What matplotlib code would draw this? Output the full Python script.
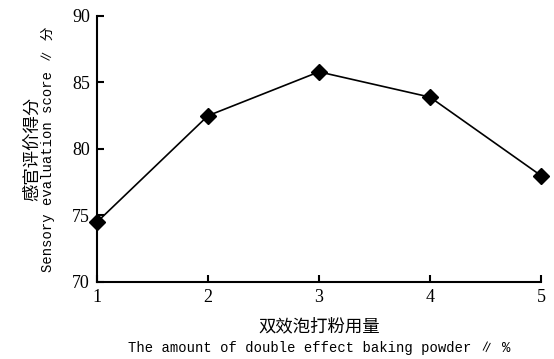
import matplotlib
matplotlib.use("Agg")
import matplotlib.pyplot as plt

# baking powder dosage (%) vs. sensory score
dosage = [1, 2, 3, 4, 5]
score = [74.5, 82.5, 85.8, 83.9, 78.0]
yticks = [70, 75, 80, 85, 90]

serif = ["Liberation Serif", "DejaVu Serif"]
cjk = ["Noto Sans CJK SC", "DejaVu Sans"]
mono = ["Liberation Mono", "Noto Sans CJK SC", "DejaVu Sans"]

fig = plt.figure(figsize=(5.54, 3.59), dpi=100)
ax = fig.add_axes([0.175, 0.2145, 0.8015, 0.741])

ax.plot(dosage, score, color="black", lw=1.2, marker="D", markersize=8.5,
        markerfacecolor="black", markeredgecolor="black", clip_on=False, zorder=3)

ax.set_xlim(1, 5)
ax.set_ylim(70, 90)
ax.set_xticks(dosage)
ax.set_yticks(yticks)

for s in ["top", "right"]:
    ax.spines[s].set_visible(False)
for s in ["left", "bottom"]:
    ax.spines[s].set_linewidth(1.5)

ax.tick_params(direction="in", length=5, width=1.5, pad=5)
for lab in ax.get_xticklabels() + ax.get_yticklabels():
    lab.set_family(serif)
    lab.set_fontsize(13)

# two-line axis titles: Chinese on top, English below
xc = 0.175 + 0.8015 / 2
fig.text(xc, 0.092, "双效泡打粉用量", family=cjk, fontsize=12.5,
         ha="center", va="center")
fig.text(xc, 0.031, "The amount of double effect baking powder ∥ %",
         family=mono, fontsize=10, ha="center", va="center")

yc = 0.2145 + 0.741 / 2
fig.text(0.058, yc, "感官评价得分", family=cjk, fontsize=12.5,
         rotation=90, ha="center", va="center")
fig.text(0.086, yc, "Sensory evaluation score ∥ 分", family=mono, fontsize=10,
         rotation=90, ha="center", va="center")

fig.savefig("out.png", dpi=100)
